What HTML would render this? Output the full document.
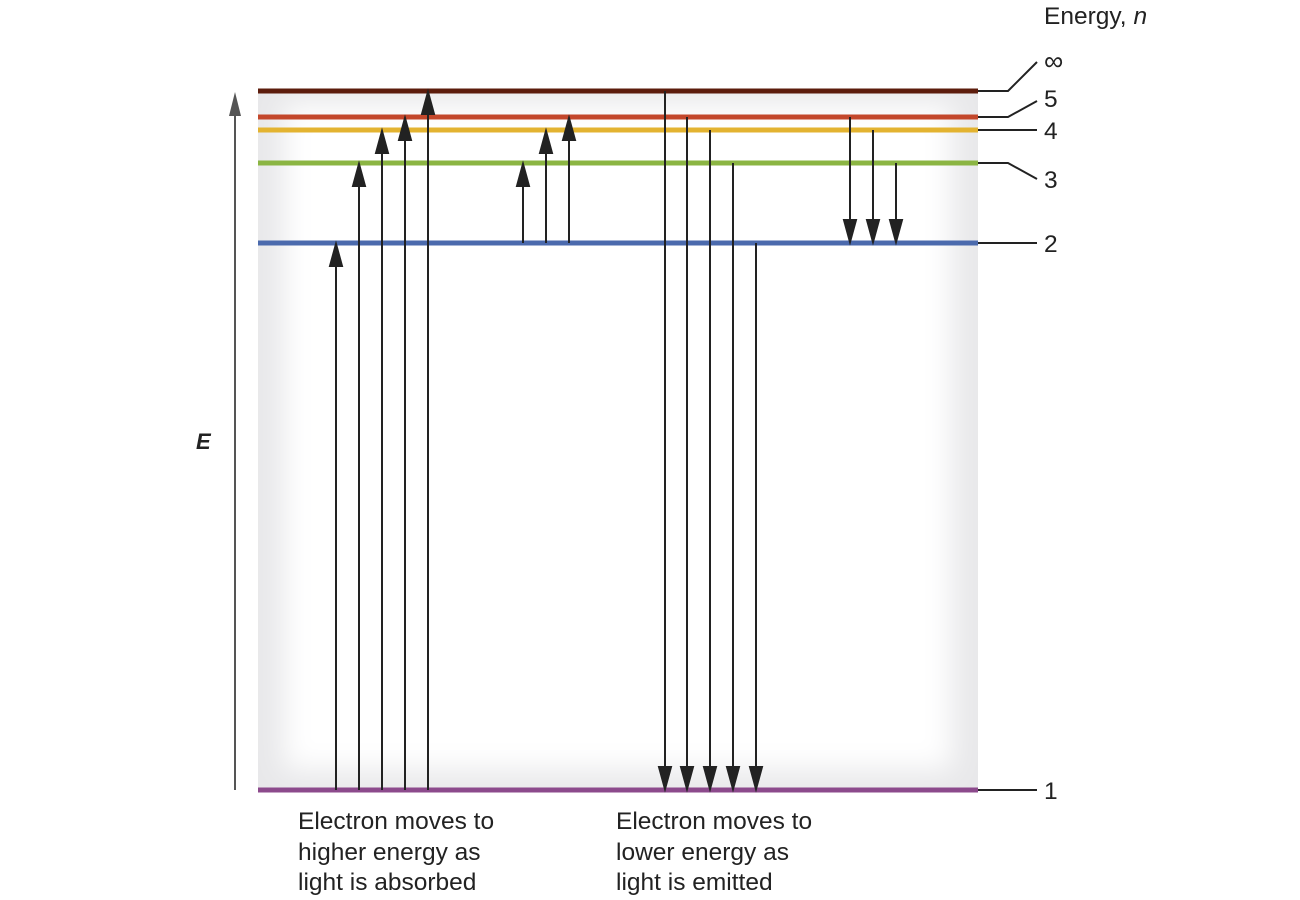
<!DOCTYPE html>
<html><head><meta charset="utf-8"><style>
html,body{margin:0;padding:0;background:#fff;}
svg{display:block;font-family:"Liberation Sans",sans-serif;}
</style></head><body>
<svg width="1300" height="900" viewBox="0 0 1300 900" xmlns="http://www.w3.org/2000/svg">
<defs>
<clipPath id="c"><rect x="258" y="91" width="720" height="700"/></clipPath>
<filter id="b" x="-20%" y="-20%" width="140%" height="140%"><feGaussianBlur stdDeviation="14"/></filter>
</defs>
<g clip-path="url(#c)">
<rect x="258" y="91" width="720" height="700" fill="#e8e8ea"/>
<rect x="284" y="104" width="668" height="666" fill="#fff" filter="url(#b)"/>
</g>
<line x1="235" y1="790" x2="235" y2="110" stroke="#555" stroke-width="2"/>
<polygon points="235,92 229,116 241,116" fill="#555"/>
<text x="196" y="449" font-size="22" font-weight="bold" font-style="italic" fill="#222">E</text>
<g stroke-width="5">
<line x1="258" y1="91" x2="978" y2="91" stroke="#5c1c0c"/>
<line x1="258" y1="117" x2="978" y2="117" stroke="#c3472b"/>
<line x1="258" y1="130" x2="978" y2="130" stroke="#e3b330"/>
<line x1="258" y1="163" x2="978" y2="163" stroke="#8bb543"/>
<line x1="258" y1="243" x2="978" y2="243" stroke="#4b6aad"/>
<line x1="258" y1="790" x2="978" y2="790" stroke="#8c4a8c"/>
</g>
<g stroke="#222" stroke-width="2" fill="none">
<polyline points="978,91 1008,91 1037,62"/>
<polyline points="978,117 1008,117 1037,101"/>
<polyline points="978,130 1037,130"/>
<polyline points="978,163 1008,163 1037,179"/>
<polyline points="978,243 1037,243"/>
<polyline points="978,790 1037,790"/>
</g>
<g font-size="24.5" fill="#222">
<text x="1044" y="24">Energy, <tspan font-style="italic">n</tspan></text>
<text x="1044" y="70" font-size="27">∞</text>
<text x="1044" y="107">5</text>
<text x="1044" y="139">4</text>
<text x="1044" y="188">3</text>
<text x="1044" y="252">2</text>
<text x="1044" y="799">1</text>
</g>
<g stroke="#222" stroke-width="2" fill="#222">
<line x1="336" y1="790" x2="336" y2="260"/><polygon points="336,244 330,266 342,266"/>
<line x1="359" y1="790" x2="359" y2="180"/><polygon points="359,164 353,186 365,186" />
<line x1="382" y1="790" x2="382" y2="147"/><polygon points="382,131 376,153 388,153"/>
<line x1="405" y1="790" x2="405" y2="134"/><polygon points="405,118 399,140 411,140"/>
<line x1="428" y1="790" x2="428" y2="108"/><polygon points="428,92 422,114 434,114"/>
<line x1="523" y1="243" x2="523" y2="180"/><polygon points="523,164 517,186 529,186"/>
<line x1="546" y1="243" x2="546" y2="147"/><polygon points="546,131 540,153 552,153"/>
<line x1="569" y1="243" x2="569" y2="134"/><polygon points="569,118 563,140 575,140"/>
<line x1="665" y1="91" x2="665" y2="772"/><polygon points="665,789 659,767 671,767"/>
<line x1="687" y1="117" x2="687" y2="772"/><polygon points="687,789 681,767 693,767"/>
<line x1="710" y1="130" x2="710" y2="772"/><polygon points="710,789 704,767 716,767"/>
<line x1="733" y1="163" x2="733" y2="772"/><polygon points="733,789 727,767 739,767"/>
<line x1="756" y1="243" x2="756" y2="772"/><polygon points="756,789 750,767 762,767"/>
<line x1="850" y1="117" x2="850" y2="226"/><polygon points="850,242 844,220 856,220"/>
<line x1="873" y1="130" x2="873" y2="226"/><polygon points="873,242 867,220 879,220"/>
<line x1="896" y1="163" x2="896" y2="226"/><polygon points="896,242 890,220 902,220"/>
</g>
<g font-size="24.5" fill="#222">
<text x="298" y="829">Electron moves to</text>
<text x="298" y="860">higher energy as</text>
<text x="298" y="890">light is absorbed</text>
<text x="616" y="829">Electron moves to</text>
<text x="616" y="860">lower energy as</text>
<text x="616" y="890">light is emitted</text>
</g>
</svg>
</body></html>
